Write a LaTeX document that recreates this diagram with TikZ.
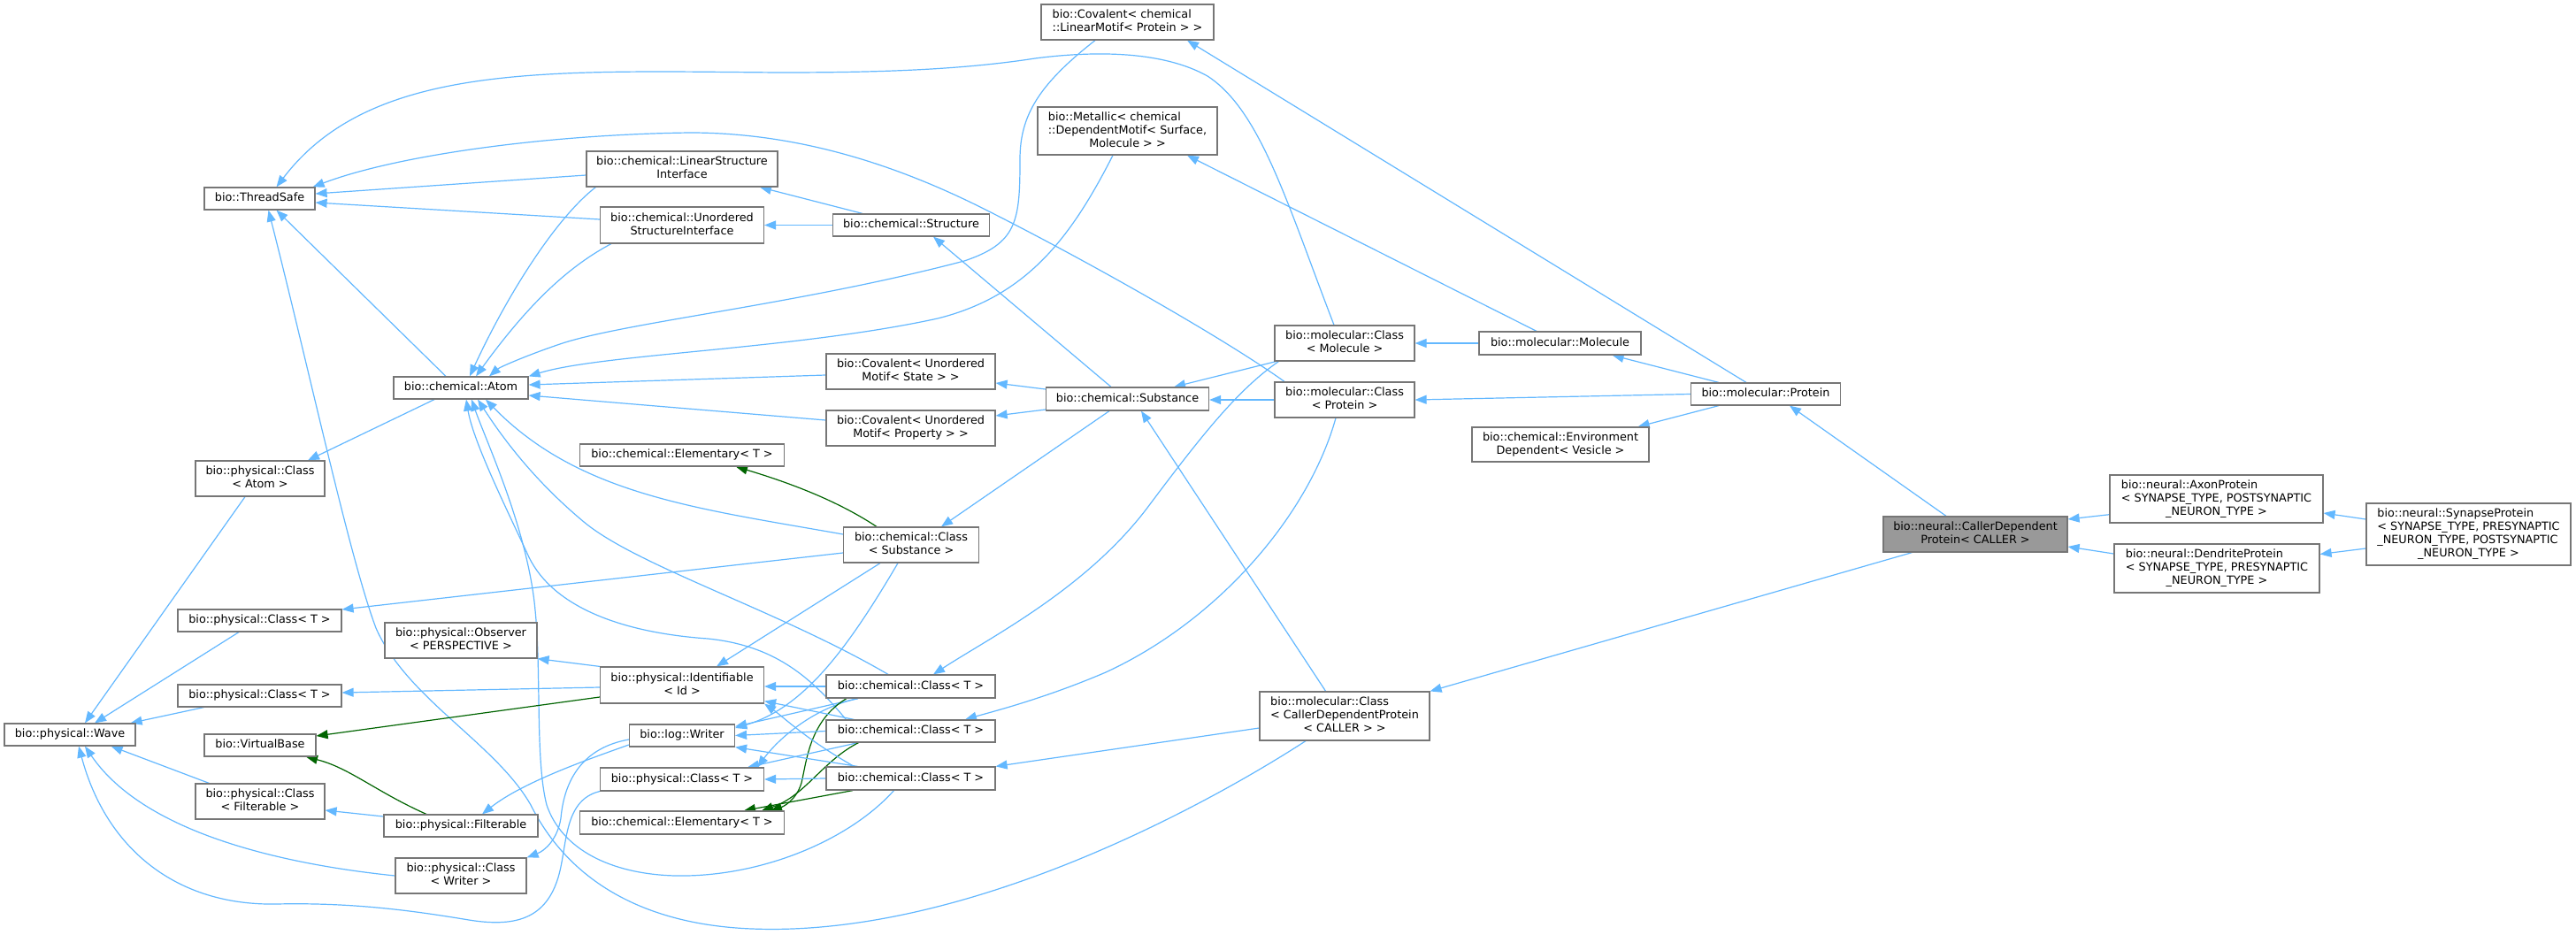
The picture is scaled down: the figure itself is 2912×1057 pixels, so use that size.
\documentclass[tikz,border=0pt]{standalone}
\usepackage{fontspec}
\setmainfont{DejaVu Sans}
\usetikzlibrary{arrows.meta}
\pgfdeclarelayer{bg}
\pgfsetlayers{bg,main}
\definecolor{eblue}{HTML}{63B8FF}
\definecolor{egreen}{HTML}{006400}
\definecolor{bgray}{HTML}{767676}
\definecolor{fgray}{HTML}{999999}
\newcommand\Ta[1]{\begin{tabular}{@{}c@{}}#1\end{tabular}}
\newcommand\Tb[2]{\begin{tabular}{@{}l@{}}#1\\\multicolumn{1}{@{}c@{}}{#2}\end{tabular}}
\begin{document}
\begin{tikzpicture}[x=1pt,y=-1pt,
  box/.style={draw=bgray, line width=1.2pt, fill=white, inner sep=0pt, font=\fontsize{12.8}{15}\selectfont},
  sz/.style 2 args={minimum width=#1pt, minimum height=#2pt},
  e/.style={draw=eblue, line width=1.2pt, -{Triangle[length=13pt,width=10pt]}},
  g/.style={draw=egreen, line width=1.2pt, -{Triangle[length=13pt,width=10pt]}}]
\useasboundingbox (0,0) rectangle (2912,1057);
\begin{pgfonlayer}{bg}
\fill[white] (0,0) rectangle (2912,1057);
\end{pgfonlayer}

% nodes
\node[box,sz={195}{40}] (covlin) at (1274.5,25) {\Tb{bio::Covalent< chemical}{::LinearMotif< Protein > >}};
\node[box,sz={203}{54}] (metallic) at (1274.5,148) {\Tb{bio::Metallic< chemical\\::DependentMotif< Surface,}{Molecule > >}};
\node[box,sz={125}{25}] (threadsafe) at (293.5,224.5) {\Ta{bio::ThreadSafe}};
\node[box,sz={216}{40}] (lsi) at (771,191) {\Tb{bio::chemical::LinearStructure}{Interface}};
\node[box,sz={185}{41}] (usi) at (771,254.5) {\Tb{bio::chemical::Unordered}{StructureInterface}};
\node[box,sz={177}{25}] (structure) at (1030,254.5) {\Ta{bio::chemical::Structure}};
\node[box,sz={158}{40}] (mclassmol) at (1520,388) {\Tb{bio::molecular::Class}{< Molecule >}};
\node[box,sz={183}{26}] (molecule) at (1763.5,388) {\Ta{bio::molecular::Molecule}};
\node[box,sz={152}{25}] (atom) at (521,438.5) {\Ta{bio::chemical::Atom}};
\node[box,sz={191}{40}] (covstate) at (1029.5,420) {\Tb{bio::Covalent< Unordered}{Motif< State > >}};
\node[box,sz={184}{26}] (substance) at (1274.5,451) {\Ta{bio::chemical::Substance}};
\node[box,sz={158}{40}] (mclassprot) at (1520,452) {\Tb{bio::molecular::Class}{< Protein >}};
\node[box,sz={169}{25}] (protein) at (1996,445.5) {\Ta{bio::molecular::Protein}};
\node[box,sz={191}{40}] (covprop) at (1029.5,484) {\Tb{bio::Covalent< Unordered}{Motif< Property > >}};
\node[box,sz={200}{39}] (envdep) at (1764,502.5) {\Tb{bio::chemical::Environment}{Dependent< Vesicle >}};
\node[box,sz={146}{40}] (pclassatom) at (294,541) {\Tb{bio::physical::Class}{< Atom >}};
\node[box,sz={231}{25}] (elemtop) at (771,514.5) {\Ta{bio::chemical::Elementary< T >}};
\node[box,sz={153}{40}] (cclasssub) at (1030,616) {\Tb{bio::chemical::Class}{< Substance >}};
\node[box,sz={208}{40},fill=fgray] (cdp) at (2233,604) {\Tb{bio::neural::CallerDependent}{Protein< CALLER >}};
\node[box,sz={241}{54}] (axon) at (2505.5,564) {\Tb{bio::neural::AxonProtein\\< SYNAPSE\_TYPE, POSTSYNAPTIC}{\_NEURON\_TYPE >}};
\node[box,sz={232}{55}] (dendrite) at (2506,642.5) {\Tb{bio::neural::DendriteProtein\\< SYNAPSE\_TYPE, PRESYNAPTIC}{\_NEURON\_TYPE >}};
\node[box,sz={231}{70}] (synapse) at (2790.5,604) {\Tb{bio::neural::SynapseProtein\\< SYNAPSE\_TYPE, PRESYNAPTIC\\\_NEURON\_TYPE, POSTSYNAPTIC}{\_NEURON\_TYPE >}};
\node[box,sz={185}{25}] (pclasst1) at (293.5,701.5) {\Ta{bio::physical::Class< T >}};
\node[box,sz={172}{40}] (observer) at (521,724) {\Tb{bio::physical::Observer}{< PERSPECTIVE >}};
\node[box,sz={185}{41}] (identifiable) at (771,774.5) {\Tb{bio::physical::Identifiable}{< Id >}};
\node[box,sz={191}{26}] (cclasst1) at (1029.5,776) {\Ta{bio::chemical::Class< T >}};
\node[box,sz={185}{25}] (pclasst2) at (293.5,786.5) {\Ta{bio::physical::Class< T >}};
\node[box,sz={148}{25}] (wave) at (79,830.5) {\Ta{bio::physical::Wave}};
\node[box,sz={126}{25}] (virtualbase) at (294,842.5) {\Ta{bio::VirtualBase}};
\node[box,sz={119}{25}] (writer) at (771,831.5) {\Ta{bio::log::Writer}};
\node[box,sz={191}{25}] (cclasst2) at (1029.5,826.5) {\Ta{bio::chemical::Class< T >}};
\node[box,sz={192}{55}] (mclasscdp) at (1520,809.5) {\Tb{bio::molecular::Class\\< CallerDependentProtein}{< CALLER > >}};
\node[box,sz={185}{26}] (pclasst3) at (771,881) {\Ta{bio::physical::Class< T >}};
\node[box,sz={191}{26}] (cclasst3) at (1029.5,880) {\Ta{bio::chemical::Class< T >}};
\node[box,sz={146}{40}] (pclassfilt) at (294,906) {\Tb{bio::physical::Class}{< Filterable >}};
\node[box,sz={174}{25}] (filterable) at (521,933.5) {\Ta{bio::physical::Filterable}};
\node[box,sz={231}{26}] (elembot) at (771,930) {\Ta{bio::chemical::Elementary< T >}};
\node[box,sz={148}{40}] (pclasswriter) at (521,990) {\Tb{bio::physical::Class}{< Writer >}};

\begin{pgfonlayer}{bg}
% into ThreadSafe
\draw[e] ([xshift=-17pt]atom.north) -- ([xshift=19pt]threadsafe.south);
\draw[e] ([yshift=-7pt]lsi.west) -- ([yshift=5.5pt]threadsafe.east);
\draw[e] ([yshift=6.5pt]usi.west) -- ([yshift=-4.5pt]threadsafe.east);
\draw[e] ([xshift=-12pt]mclassmol.north) .. controls (1455,230) and (1425,125) .. (1365,86) .. controls (1315,58) and (1240,57) .. (1170,66) .. controls (1080,80) and (980,82) .. (880,82) .. controls (620,80) and (420,70) .. ([xshift=19pt]threadsafe.north);
\draw[e] ([xshift=-68pt]mclassprot.north) .. controls (1380,380) and (1220,290) .. (1110,235) .. controls (1010,185) and (900,150) .. (780,150) .. controls (620,152) and (450,175) .. ([xshift=-3pt]threadsafe.north east);
\draw[e] ([xshift=-44pt]mclasscdp.south) .. controls (1380,900) and (1100,1060) .. (850,1050) .. controls (720,1045) and (640,990) .. (600,910) .. controls (560,840) and (460,790) .. (425,710) .. controls (395,630) and (350,420) .. ([xshift=10pt]threadsafe.south);
% Atom
\draw[e] ([xshift=-30pt]atom.south) -- ([xshift=54pt]pclassatom.north);
\draw[e] ([xshift=-17pt]pclassatom.south) -- ([xshift=17pt]wave.north);
\draw[e] ([xshift=11pt]lsi.south west) .. controls (630,245) and (575,330) .. ([xshift=10pt]atom.north);
\draw[e] ([xshift=13pt]usi.south west) .. controls (645,300) and (600,340) .. ([xshift=17pt]atom.north);
\draw[e] ([xshift=-36.5pt]covlin.south) .. controls (1175,95) and (1153,130) .. (1153,180) .. controls (1153,250) and (1150,275) .. (1090,295) .. controls (900,345) and (700,365) .. (630,390) .. controls (595,402) and (565,415) .. ([xshift=32pt]atom.north);
\draw[e] ([xshift=-16.5pt]metallic.south) .. controls (1210,270) and (1160,335) .. (1060,360) .. controls (900,395) and (680,400) .. (atom.north east);
\draw[e] ([yshift=-4pt]covstate.west) -- ([yshift=3.5pt]atom.east);
\draw[e] ([yshift=9pt]covprop.west) -- ([yshift=-8.5pt]atom.east);
\draw[e] ([yshift=12pt]cclasssub.west) .. controls (790,575) and (655,560) .. ([xshift=28pt]atom.south);
\draw[e] ([xshift=-25.5pt]cclasst1.north) .. controls (880,690) and (720,640) .. (660,590) .. controls (600,540) and (565,490) .. ([xshift=19pt]atom.south);
\draw[e] ([xshift=23pt]cclasst2.north west) .. controls (920,770) and (880,730) .. (800,722) .. controls (700,715) and (625,685) .. (598,630) .. controls (575,580) and (535,500) .. ([xshift=6pt]atom.south);
\draw[e] ([xshift=-19pt]cclasst3.south) .. controls (960,950) and (860,992) .. (763,990) .. controls (690,988) and (635,960) .. (618,910) .. controls (605,860) and (612,760) .. (605,690) .. controls (597,600) and (550,500) .. ([xshift=12pt]atom.south);
% Substance and Structure
\draw[e] ([yshift=11pt]substance.west) -- ([yshift=-13pt]covstate.east);
\draw[e] ([yshift=-12pt]substance.west) -- ([yshift=14pt]covprop.east);
\draw[e] ([xshift=-18.5pt]substance.north) -- ([xshift=25pt]structure.south);
\draw[e] ([xshift=-55pt]structure.north) -- ([xshift=88pt]lsi.south);
\draw[e] (structure.west) -- (usi.east);
\draw[e] ([xshift=-20.5pt]substance.south) -- ([xshift=34pt]cclasssub.north);
% chemical::Class< Substance >
\draw[g] ([xshift=-39pt]cclasssub.north) .. controls (945,565) and (890,545) .. ([xshift=61pt]elemtop.south);
\draw[e] ([yshift=-9pt]cclasssub.west) -- ([yshift=12.5pt]pclasst1.east);
\draw[e] ([xshift=-35pt]cclasssub.south) -- ([xshift=39pt]identifiable.north);
\draw[e] ([xshift=-15pt]cclasssub.south) .. controls (960,730) and (910,800) .. ([yshift=8.5pt]writer.east);
% chemical::Class< T > (1)
\draw[e] (cclasst1.west) -- (cclasst1.west -| identifiable.east);
\draw[e] ([xshift=-59.5pt]cclasst1.south) -- ([yshift=-3pt]writer.north east);
\draw[e] ([xshift=-59.5pt]cclasst1.south) .. controls (920,800) and (880,835) .. ([xshift=-8pt]pclasst3.north east);
\draw[g] ([xshift=-72.5pt]cclasst1.south) .. controls (915,815) and (912,860) .. (906,885) .. controls (900,905) and (885,912) .. ([xshift=100pt]elembot.north);
% chemical::Class< T > (2)
\draw[e] ([xshift=32pt]cclasst2.north west) -- ([yshift=3pt]identifiable.south east);
\draw[e] (cclasst2.west) -- (writer.east);
\draw[e] ([xshift=-59.5pt]cclasst2.south) -- ([xshift=74pt]pclasst3.north);
\draw[g] ([xshift=-59pt]cclasst2.south) .. controls (930,860) and (910,900) .. ([xshift=90pt]elembot.north);
% chemical::Class< T > (3)
\draw[e] ([xshift=32pt]cclasst3.north west) .. controls (910,835) and (885,810) .. (identifiable.south east);
\draw[e] ([xshift=36pt]cclasst3.north west) -- (writer.south east);
\draw[e] (cclasst3.west) -- (pclasst3.east);
\draw[g] ([xshift=-65.5pt]cclasst3.south) -- ([xshift=70pt]elembot.north);
% Identifiable
\draw[e] (identifiable.north west) -- (observer.south east);
\draw[e] ([yshift=-2.5pt]identifiable.west) -- ([yshift=3.5pt]pclasst2.east);
\draw[g] ([yshift=-13.5pt]identifiable.west) -- ([yshift=10.5pt]virtualbase.east);
% Writer
\draw[e] ([yshift=-10.5pt]writer.west) .. controls (660,860) and (590,885) .. ([xshift=24pt]filterable.north);
\draw[e] ([yshift=-4.5pt]writer.west) .. controls (660,845) and (638,880) .. (634,925) .. controls (630,950) and (615,962) .. (pclasswriter.north east);
% Filterable
\draw[e] ([yshift=10.5pt]filterable.west) -- ([yshift=-10pt]pclassfilt.east);
\draw[g] ([xshift=-39pt]filterable.north) .. controls (425,895) and (395,868) .. ([xshift=52pt]virtualbase.south);
% Wave
\draw[e] ([xshift=-23.5pt]pclasst1.south) -- ([xshift=28pt]wave.north);
\draw[e] ([xshift=30pt]pclasst2.south west) -- ([xshift=-6pt]wave.north east);
\draw[e] ([xshift=16pt]pclassfilt.north west) -- ([xshift=-28pt]wave.south east);
\draw[e] (pclasswriter.west) .. controls (330,978) and (165,945) .. ([xshift=17pt]wave.south);
\draw[e] (pclasst3.south west) .. controls (635,905) and (642,960) .. (630,995) .. controls (615,1040) and (580,1048) .. (530,1040) .. controls (470,1030) and (400,1020) .. (312,1022) .. controls (200,1024) and (120,960) .. ([xshift=10pt]wave.south);
% molecular classes
\draw[e] ([xshift=2pt]mclassmol.south west) -- ([xshift=-40pt]substance.north east);
\draw[e] ([xshift=5pt]mclassmol.south west) .. controls (1400,440) and (1360,490) .. (1300,570) .. controls (1230,665) and (1120,720) .. ([xshift=25.5pt]cclasst1.north);
\draw[e] (mclassprot.west) -- (mclassprot.west -| substance.east);
\draw[e] ([xshift=-10pt]mclassprot.south) .. controls (1480,580) and (1380,700) .. (1250,760) .. controls (1180,790) and (1120,805) .. ([xshift=61.5pt]cclasst2.north);
\draw[e] ([xshift=-21.4pt]mclasscdp.north) -- ([xshift=15.5pt]substance.south);
\draw[e] ([yshift=-13.5pt]mclasscdp.west) -- (cclasst3.north east);
\draw[e] (molecule.west) -- (mclassmol.east);
\draw[e] ([xshift=-26.5pt]molecule.north) -- ([xshift=67.5pt]metallic.south);
% Protein
\draw[e] ([xshift=32pt]protein.north west) -- ([xshift=-33pt]molecule.south east);
\draw[e] ([xshift=-22pt]protein.north) -- ([xshift=67.5pt]covlin.south);
\draw[e] (protein.west) -- (mclassprot.east);
\draw[e] ([xshift=32pt]protein.south west) -- ([xshift=-13pt]envdep.north east);
% CallerDependentProtein and derived
\draw[e] ([xshift=-33pt]cdp.north) -- ([xshift=27pt]protein.south);
\draw[e] ([xshift=33pt]cdp.south west) -- (mclasscdp.north east);
\draw[e] ([yshift=-17.7pt]axon.west) -- ([yshift=17pt]cdp.east);
\draw[e] ([yshift=16.5pt]dendrite.west) -- ([yshift=-14pt]cdp.east);
\draw[e] ([yshift=17pt]synapse.west) -- ([yshift=-16pt]axon.east);
\draw[e] ([yshift=-16pt]synapse.west) -- ([yshift=16pt]dendrite.east);
\end{pgfonlayer}
\end{tikzpicture}
\end{document}
